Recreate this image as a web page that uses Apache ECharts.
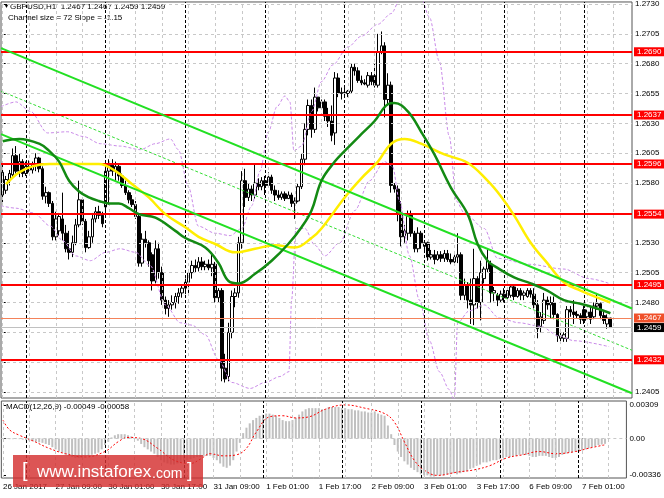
<!DOCTYPE html>
<html><head><meta charset="utf-8">
<script src="https://cdn.jsdelivr.net/npm/echarts@6/dist/echarts.min.js"></script>
<style>html,body{margin:0;padding:0;background:#fff}#c{width:664px;height:498px}</style>
</head><body><div id="c"></div>
<script>
// ---- candles (GBPUSD H1, 26 Jan 17:00 .. 7 Feb 08:00) ----
const opens=[1.2570,1.2574,1.2582,1.2587,1.2603,1.2590,1.2598,1.2588,1.2594,1.2591,
1.2596,1.2601,1.2592,1.2569,1.2572,1.2563,1.2535,1.2540,1.2550,1.2538,
1.2525,1.2522,1.2530,1.2545,1.2566,1.2548,1.2526,1.2535,1.2550,1.2556,
1.2553,1.2560,1.2590,1.2595,1.2590,1.2594,1.2586,1.2578,1.2572,1.2566,
1.2562,1.2552,1.2513,1.2533,1.2530,1.2520,1.2498,1.2525,1.2505,1.2482,
1.2475,1.2478,1.2480,1.2485,1.2488,1.2492,1.2497,1.2505,1.2511,1.2509,
1.2514,1.2510,1.2512,1.2509,1.2512,1.2484,1.2490,1.2425,1.2418,1.2455,
1.2485,1.2488,1.2530,1.2582,1.2568,1.2575,1.2570,1.2580,1.2577,1.2582,
1.2578,1.2585,1.2574,1.2570,1.2568,1.2571,1.2567,1.2570,1.2563,1.2565,
1.2577,1.2600,1.2625,1.2645,1.2625,1.2652,1.2643,1.2648,1.2636,1.2632,
1.2622,1.2668,1.2655,1.2656,1.2655,1.2657,1.2677,1.2674,1.2666,1.2664,
1.2662,1.2670,1.2670,1.2662,1.2690,1.2695,1.2650,1.2662,1.2578,1.2575,
1.2555,1.2535,1.2538,1.2553,1.2538,1.2525,1.2538,1.2527,1.2530,1.2518,
1.2520,1.2516,1.2520,1.2517,1.2521,1.2516,1.2514,1.2518,1.2520,1.2486,
1.2495,1.2482,1.2478,1.2500,1.2480,1.2500,1.2508,1.2512,1.2488,1.2486,
1.2482,1.2487,1.2484,1.2486,1.2493,1.2485,1.2490,1.2486,1.2485,1.2490,
1.2487,1.2478,1.2460,1.2465,1.2482,1.2478,1.2480,1.2470,1.2452,1.2450,
1.2450,1.2474,1.2472,1.2470,1.2469,1.2474,1.2468,1.2472,1.2468,1.2477,
1.2479,1.2469,1.2462,1.2467];
const highs=[1.2596,1.2586,1.2591,1.2609,1.2611,1.2605,1.2600,1.2598,1.2599,1.2598,
1.2605,1.2602,1.2594,1.2577,1.2573,1.2565,1.2556,1.2555,1.2572,1.2545,
1.2540,1.2536,1.2550,1.2582,1.2568,1.2550,1.2540,1.2555,1.2560,1.2561,
1.2556,1.2598,1.2600,1.2600,1.2598,1.2596,1.2588,1.2582,1.2574,1.2570,
1.2565,1.2555,1.2538,1.2540,1.2532,1.2522,1.2532,1.2530,1.2510,1.2485,
1.2482,1.2486,1.2488,1.2492,1.2495,1.2500,1.2508,1.2515,1.2516,1.2518,
1.2518,1.2515,1.2516,1.2520,1.2514,1.2492,1.2492,1.2437,1.2463,1.2490,
1.2492,1.2535,1.2590,1.2592,1.2580,1.2578,1.2596,1.2584,1.2585,1.2586,
1.2589,1.2587,1.2578,1.2574,1.2573,1.2573,1.2573,1.2572,1.2568,1.2580,
1.2605,1.2630,1.2650,1.2650,1.2660,1.2652,1.2650,1.2650,1.2643,1.2645,
1.2673,1.2672,1.2660,1.2662,1.2658,1.2680,1.2680,1.2677,1.2670,1.2667,
1.2673,1.2673,1.2680,1.2705,1.2707,1.2698,1.2672,1.2665,1.2580,1.2578,
1.2565,1.2545,1.2557,1.2557,1.2540,1.2543,1.2540,1.2532,1.2531,1.2524,
1.2524,1.2523,1.2523,1.2524,1.2524,1.2521,1.2520,1.2538,1.2522,1.2500,
1.2497,1.2500,1.2525,1.2502,1.2515,1.2510,1.2525,1.2515,1.2493,1.2488,
1.2490,1.2492,1.2492,1.2495,1.2495,1.2492,1.2492,1.2490,1.2492,1.2492,
1.2492,1.2482,1.2472,1.2488,1.2485,1.2485,1.2485,1.2471,1.2455,1.2455,
1.2477,1.2477,1.2482,1.2473,1.2471,1.2477,1.2474,1.2477,1.2480,1.2488,
1.2480,1.2472,1.2470,1.2467];
const lows=[1.2564,1.2571,1.2578,1.2584,1.2588,1.2585,1.2585,1.2586,1.2589,1.2588,
1.2590,1.2589,1.2566,1.2563,1.2560,1.2532,1.2532,1.2536,1.2532,1.2522,
1.2516,1.2518,1.2528,1.2543,1.2545,1.2522,1.2525,1.2530,1.2547,1.2550,
1.2543,1.2553,1.2562,1.2586,1.2582,1.2582,1.2576,1.2570,1.2563,1.2560,
1.2550,1.2510,1.2510,1.2526,1.2510,1.2490,1.2496,1.2500,1.2478,1.2470,
1.2468,1.2474,1.2475,1.2479,1.2484,1.2487,1.2488,1.2500,1.2505,1.2506,
1.2507,1.2507,1.2507,1.2502,1.2480,1.2480,1.2414,1.2413,1.2414,1.2450,
1.2476,1.2484,1.2525,1.2560,1.2565,1.2565,1.2567,1.2574,1.2574,1.2570,
1.2576,1.2571,1.2565,1.2566,1.2566,1.2565,1.2567,1.2560,1.2550,1.2564,
1.2575,1.2595,1.2620,1.2618,1.2622,1.2640,1.2642,1.2632,1.2627,1.2615,
1.2612,1.2652,1.2650,1.2652,1.2652,1.2655,1.2670,1.2664,1.2662,1.2662,
1.2660,1.2662,1.2660,1.2660,1.2688,1.2635,1.2645,1.2572,1.2572,1.2548,
1.2527,1.2530,1.2532,1.2535,1.2522,1.2522,1.2525,1.2524,1.2515,1.2516,
1.2512,1.2515,1.2514,1.2514,1.2514,1.2512,1.2513,1.2513,1.2482,1.2482,
1.2475,1.2462,1.2461,1.2475,1.2465,1.2496,1.2505,1.2480,1.2481,1.2477,
1.2480,1.2480,1.2482,1.2484,1.2482,1.2484,1.2482,1.2482,1.2484,1.2484,
1.2475,1.2450,1.2455,1.2462,1.2474,1.2467,1.2466,1.2447,1.2447,1.2447,
1.2447,1.2468,1.2462,1.2467,1.2462,1.2462,1.2466,1.2462,1.2466,1.2474,
1.2466,1.2462,1.2458,1.2459];
const closes=[1.2589,1.2583,1.2588,1.2603,1.2590,1.2598,1.2588,1.2594,1.2591,1.2596,
1.2601,1.2592,1.2569,1.2572,1.2563,1.2535,1.2550,1.2552,1.2538,1.2525,
1.2522,1.2530,1.2545,1.2566,1.2548,1.2526,1.2535,1.2550,1.2556,1.2553,
1.2546,1.2590,1.2595,1.2590,1.2594,1.2586,1.2578,1.2572,1.2566,1.2562,
1.2552,1.2513,1.2533,1.2530,1.2515,1.2498,1.2525,1.2505,1.2482,1.2475,
1.2478,1.2480,1.2485,1.2488,1.2492,1.2497,1.2505,1.2511,1.2509,1.2514,
1.2510,1.2512,1.2509,1.2512,1.2484,1.2490,1.2425,1.2416,1.2455,1.2485,
1.2488,1.2530,1.2582,1.2568,1.2575,1.2570,1.2580,1.2577,1.2582,1.2578,
1.2585,1.2574,1.2570,1.2568,1.2571,1.2567,1.2570,1.2563,1.2565,1.2577,
1.2600,1.2625,1.2645,1.2625,1.2652,1.2643,1.2648,1.2636,1.2632,1.2620,
1.2668,1.2655,1.2656,1.2655,1.2657,1.2677,1.2674,1.2666,1.2664,1.2663,
1.2670,1.2665,1.2662,1.2690,1.2695,1.2650,1.2662,1.2578,1.2575,1.2555,
1.2535,1.2540,1.2553,1.2538,1.2525,1.2538,1.2530,1.2530,1.2518,1.2520,
1.2516,1.2520,1.2517,1.2521,1.2516,1.2514,1.2518,1.2520,1.2486,1.2495,
1.2482,1.2478,1.2500,1.2480,1.2505,1.2508,1.2515,1.2488,1.2490,1.2482,
1.2487,1.2484,1.2490,1.2493,1.2485,1.2490,1.2486,1.2488,1.2490,1.2487,
1.2478,1.2458,1.2468,1.2482,1.2478,1.2480,1.2470,1.2452,1.2450,1.2453,
1.2474,1.2472,1.2470,1.2469,1.2466,1.2465,1.2472,1.2466,1.2477,1.2479,
1.2469,1.2465,1.2467,1.2459];

// ---- indicators as [bar, value] ----
const maGreen=[[0,1.2615],[5,1.2617],[11,1.2613],[14,1.2607],[17,1.2598],[20,1.2582],[23,1.2573],[26,1.2568],[29,1.2565],[32,1.2563],[35,1.2563],[38,1.2559],[41,1.2554],[46,1.2551],[52,1.2540],[55,1.2534],[61,1.2526],[65,1.2513],[68,1.2498],[71,1.2496],[76,1.2504],[81,1.2515],[86,1.2529],[90,1.2543],[93,1.2557],[96,1.2582],[100,1.2598],[103,1.2607],[108,1.2621],[112,1.2632],[116,1.2646],[118,1.2647],[122,1.2640],[126,1.2623],[130,1.2604],[135,1.2576],[140,1.2554],[143,1.2529],[146,1.2515],[149,1.2509],[154,1.2501],[159,1.2496],[164,1.2490],[169,1.2482],[174,1.2479],[179,1.2475],[183,1.2471]];
const maYellow=[[1,1.2579],[2,1.2582],[5,1.2589],[9,1.2594],[14,1.2596],[20,1.2596],[29,1.2596],[34,1.2590],[39,1.2579],[44,1.2568],[49,1.2554],[55,1.2543],[59,1.2535],[64,1.2529],[70,1.2522],[76,1.2525],[82,1.2528],[88,1.2526],[93,1.2534],[96,1.2542],[103,1.2568],[108,1.2584],[113,1.2598],[117,1.2613],[121,1.2617],[126,1.2613],[133,1.2604],[140,1.2597],[146,1.2582],[150,1.2569],[154,1.2553],[159,1.2530],[164,1.2513],[169,1.2497],[174,1.2490],[183,1.2480]];
const bbUpper=[[-0.5,1.2644],[4,1.2648],[8.4,1.2640],[13.5,1.2622],[19.5,1.2623],[24.3,1.2619],[29.4,1.2613],[35.4,1.2611],[41.4,1.2608],[46,1.2613],[50.5,1.2617],[52.9,1.2608],[55.9,1.2577],[58.9,1.2544],[64,1.2538],[68.5,1.2536],[72,1.2542],[75,1.2561],[77.5,1.2590],[80,1.2623],[82.6,1.2644],[85,1.2653],[86.5,1.2648],[87.7,1.2607],[90,1.2611],[93,1.2640],[96,1.2665],[99.4,1.2679],[104,1.2694],[108,1.2703],[113,1.2713],[117,1.2722],[120,1.2736],[125.5,1.2740],[128.5,1.2719],[131.5,1.2682],[134.5,1.2619],[136.6,1.2565],[139,1.2555],[145,1.2542],[149,1.2517],[158.5,1.2512],[169,1.2508],[176.5,1.2500],[182.6,1.2496]];
const bbLower=[[-0.5,1.2561],[4,1.2559],[9.3,1.2555],[14.4,1.2544],[18,1.2532],[22,1.2519],[26.4,1.2515],[31,1.2522],[35.4,1.2525],[40,1.2522],[44.4,1.2511],[49,1.2478],[53.5,1.2463],[57,1.2461],[61,1.2453],[65,1.2432],[69,1.2413],[74.5,1.2408],[79,1.2413],[83.5,1.2418],[86.2,1.2422],[87,1.2482],[88.3,1.2542],[91,1.2542],[94,1.2528],[97,1.2519],[101.5,1.2530],[106,1.2557],[110.5,1.2582],[115,1.2598],[117.4,1.2594],[119.5,1.2565],[122.5,1.2519],[125.5,1.2482],[128.5,1.2448],[131.5,1.2422],[134.5,1.2407],[136,1.2398],[137,1.2463],[140.5,1.2473],[145,1.2478],[149.5,1.2467],[155.5,1.2463],[162,1.2460],[167.5,1.2452],[172,1.2448],[182.6,1.2443]];
const channelUpper=[[-0.5,1.2693],[189.5,1.2475]];
const channelLower=[[-0.5,1.2621],[189.5,1.2404]];
const channelMid=[[-0.5,1.2657],[189.5,1.2440]];

// ---- MACD(12,26,9) ----
const macdHist=[-0.00005,-0.00005,-0.00006,-0.00006,-0.00005,-0.00006,
-0.0001,-0.00015,-0.0002,-0.00025,-0.0003,-0.00035,-0.0004,-0.0005,-0.0006,
-0.0008,-0.0010,-0.0012,-0.0013,-0.0015,-0.0016,-0.0017,-0.0018,-0.0018,
-0.0017,-0.0016,-0.0016,-0.0015,-0.0014,-0.0013,
-0.0010,-0.0006,-0.0003,
0.0001,0.0003,0.0004,0.0004,0.0004,0.0003,0.0002,0.0000,
-0.0002,-0.0005,-0.0008,-0.0010,-0.0012,-0.0014,
-0.0017,-0.0020,-0.0022,-0.0023,-0.0024,-0.0024,-0.0023,-0.0022,-0.0021,
-0.0020,-0.0019,-0.0018,-0.0017,-0.0017,-0.0016,-0.0016,-0.0016,-0.0018,
-0.0020,-0.0023,-0.0026,-0.0027,-0.0025,
-0.0020,-0.0012,-0.0004,
0.0005,0.0010,0.0014,0.0017,0.0019,0.0021,0.0022,
0.0023,0.0023,0.0022,0.0021,0.0019,0.0017,0.0016,0.0016,0.0017,0.0019,
0.0022,0.0025,0.0027,0.0028,0.0028,0.0028,0.0028,0.0027,0.0027,
0.0029,0.0029,0.0029,0.0029,0.0028,0.0028,0.0027,0.0027,0.0026,0.0026,
0.0025,0.0025,0.0024,0.0024,0.0025,0.0023,0.0022,
0.0021,0.0012,0.0004,
-0.0006,-0.0012,-0.0017,-0.0021,-0.0024,-0.0027,-0.0029,-0.0031,-0.0033,
-0.0034,-0.0034,-0.0035,-0.0035,-0.0034,-0.0034,-0.0034,-0.0033,-0.0033,-0.0032,
-0.0033,-0.0032,-0.0031,-0.0030,-0.0028,-0.0027,-0.0025,-0.0024,-0.0022,-0.0022,
-0.0021,-0.0020,-0.0020,-0.0019,-0.0018,-0.0017,-0.0017,-0.0016,-0.0016,-0.0015,
-0.0015,-0.0015,-0.0016,-0.0017,-0.0017,-0.0016,-0.0016,-0.0016,-0.0017,-0.0018,
-0.0018,-0.0017,-0.0015,-0.0014,-0.0013,-0.0013,-0.0012,-0.0012,-0.0011,-0.0010,
-0.0009,-0.0008,-0.0007,-0.0006,-0.00055,-0.00049];
const macdSignal=[[0,0.0017],[2,0.0008],[5,0.0003],[9,-0.0002],[14,-0.0009],[19,-0.0014],[25,-0.0017],[31,-0.0012],[35,-0.0003],[38,0.0001],[42,0.0000],[47,-0.0009],[52,-0.0020],[57,-0.0023],[60,-0.0019],[63,-0.0014],[67,-0.0016],[71,-0.0015],[74,-0.0009],[77,0.0006],[81,0.0020],[85,0.0021],[89,0.0019],[93,0.0020],[98,0.0027],[104,0.0031],[110,0.0028],[116,0.0023],[119,0.0015],[122,-0.0003],[125,-0.0020],[128,-0.0029],[132,-0.0034],[138,-0.0031],[143,-0.0029],[148,-0.0025],[153,-0.0018],[158,-0.0015],[163,-0.0012],[168,-0.0014],[174,-0.0012],[178,-0.0009],[183,-0.00058]];

// ---- levels and axis texts ----
const levels=[1.2690,1.2637,1.2596,1.2554,1.2495,1.2432];
const askPrice=1.2467, bidPrice=1.2459;
const priceTicks=[1.2405,1.2430,1.2455,1.2480,1.2505,1.2530,1.2555,1.2580,1.2605,1.2630,1.2655,1.2680,1.2705,1.2730];
const priceLabels=[1.2405,1.2480,1.2505,1.2530,1.2580,1.2605,1.2630,1.2655,1.2680,1.2705,1.2730];
const macdLabels=[0.00309,0,-0.00336];
const timeLabels=['26 Jan 2017','27 Jan 09:00','30 Jan 01:00','30 Jan 17:00','31 Jan 09:00','1 Feb 01:00','1 Feb 17:00','2 Feb 09:00','3 Feb 01:00','3 Feb 17:00','6 Feb 09:00','7 Feb 01:00'];
const daySeparators=[7,31,55,79,103,127,151,175];
const slots=190, labelStep=16, gridStep=8;

const cats=Array.from({length:slots},(_,i)=>String(i));
const candleData=opens.map((o,i)=>[o,closes[i],lows[i],highs[i]]);
const vGrid=[]; for(let i=0;i<slots;i+=gridStep) vGrid.push(i);
const FONT='Liberation Sans';
const gridLine={color:'#c8c8c8',type:[3,3],width:1};
const sepLine={color:'#000',type:[3,2],width:1};
const bandStyle={color:'#c98ae8',width:1,type:[3,2]};

const chart=echarts.init(document.getElementById('c'));
chart.setOption({
  animation:false,
  textStyle:{fontFamily:FONT,fontSize:8,color:'#000'},
  grid:[{left:1,top:0,width:631,height:398,show:true,borderColor:'#555',borderWidth:1},
        {left:1,top:401,width:631,height:77,show:true,borderColor:'#555',borderWidth:1}],
  xAxis:[
    {type:'category',gridIndex:0,data:cats,boundaryGap:true,axisLine:{show:false},axisTick:{show:false},axisLabel:{show:false},splitLine:{show:false}},
    {type:'value',gridIndex:0,min:-0.5,max:slots-0.5,show:false},
    {type:'category',gridIndex:1,data:cats,boundaryGap:true,
     axisLine:{show:false},
     axisTick:{show:true,alignWithLabel:true,interval:(i)=>i%labelStep===0,length:3,lineStyle:{color:'#000'}},
     axisLabel:{interval:(i)=>i%labelStep===0,formatter:(v,i)=>timeLabels[i/labelStep]||'',align:'left',margin:5,fontSize:8,fontFamily:FONT,color:'#000'},
     splitLine:{show:false}},
    {type:'value',gridIndex:1,min:-0.5,max:slots-0.5,show:false}
  ],
  yAxis:[
    {type:'value',gridIndex:0,position:'right',min:1.2400,max:1.27317,
     axisLine:{show:false},
     axisTick:{show:true,customValues:priceTicks,length:3,lineStyle:{color:'#000'}},
     axisLabel:{customValues:priceLabels,formatter:(v)=>v.toFixed(4),margin:3,fontSize:8,fontFamily:FONT,color:'#000'},
     splitLine:{show:false}},
    {type:'value',gridIndex:1,position:'right',min:-0.00364,max:0.00346,
     axisLine:{show:false},
     axisTick:{show:true,customValues:macdLabels,length:3,lineStyle:{color:'#000'}},
     axisLabel:{customValues:macdLabels,formatter:(v)=>v===0?'0.00':v.toFixed(5),margin:3,fontSize:8,fontFamily:FONT,color:'#000'},
     splitLine:{show:false}}
  ],
  graphic:[
    {type:'text',x:3,y:3,style:{text:'▼',font:'7px '+FONT,fill:'#000'}},
    {type:'text',x:10,y:3,style:{text:'GBPUSD,H1  1.2467 1.2467 1.2459 1.2459',font:'8px '+FONT,fill:'#000'}},
    {type:'text',x:8,y:14,style:{text:'Channel size = 72 Slope = -1.15',font:'8px '+FONT,fill:'#000'}},
    {type:'text',x:6,y:403,style:{text:'MACD(12,26,9) -0.00049 -0.00058',font:'8px '+FONT,fill:'#000'}},
    {type:'rect',shape:{x:13,y:455,width:190,height:32},style:{fill:'rgba(212,48,48,0.82)'},z:100},
    {type:'text',x:22,y:471,style:{text:'[',font:'20px '+FONT,fill:'#fff',verticalAlign:'middle'},z:101},
    {type:'text',x:37,y:472,style:{text:'www.instaforex',font:'17px '+FONT,fill:'#fff',verticalAlign:'middle'},z:101},
    {type:'text',x:152,y:474,style:{text:'.com',font:'14px '+FONT,fill:'#fff',verticalAlign:'middle'},z:101},
    {type:'text',x:187,y:471,style:{text:']',font:'20px '+FONT,fill:'#fff',verticalAlign:'middle'},z:101}
  ],
  series:[
    {type:'line',xAxisIndex:1,yAxisIndex:0,data:[],silent:true,z:1,
     markLine:{silent:true,precision:6,symbol:['none','none'],label:{show:false},animation:false,
       data:[...vGrid.map(i=>({xAxis:i,lineStyle:gridLine})),
             ...priceTicks.map(v=>({yAxis:v,lineStyle:gridLine})),
             ...daySeparators.map(i=>({xAxis:i,lineStyle:sepLine}))]}},
    {type:'line',xAxisIndex:1,yAxisIndex:0,data:[],silent:true,z:2,
     markLine:{silent:true,precision:6,symbol:['none','none'],animation:false,
       label:{position:'end',distance:2,formatter:(p)=>Number(p.value).toFixed(4),color:'#fff',backgroundColor:'#ff0000',padding:[1,3,0,3],fontSize:8,fontFamily:FONT},
       data:[...levels.map(v=>({yAxis:v,lineStyle:{color:'#ff0000',width:2,type:'solid'}})),
             {yAxis:askPrice,lineStyle:{color:'#f4825a',width:1,type:'solid'},label:{backgroundColor:'#f0502a',color:'#fff'}},
             {yAxis:bidPrice,lineStyle:{color:'#c0c0c0',width:1,type:'solid'},label:{backgroundColor:'#000',color:'#fff'}}]}},
    {type:'candlestick',xAxisIndex:0,yAxisIndex:0,data:candleData,barWidth:3,z:3,
     itemStyle:{color:'#ffffff',color0:'#000000',borderColor:'#000000',borderColor0:'#000000',borderWidth:1}},
    {type:'line',xAxisIndex:1,yAxisIndex:0,data:bbUpper,smooth:0.3,smoothMonotone:'x',symbol:'none',z:4,lineStyle:bandStyle},
    {type:'line',xAxisIndex:1,yAxisIndex:0,data:bbLower,smooth:0.3,smoothMonotone:'x',symbol:'none',z:4,lineStyle:bandStyle},
    {type:'line',xAxisIndex:1,yAxisIndex:0,data:channelMid,symbol:'none',z:4,lineStyle:{color:'#33dd33',width:1,type:[3,2]}},
    {type:'line',xAxisIndex:1,yAxisIndex:0,data:maYellow,smooth:0.4,symbol:'none',z:5,lineStyle:{color:'#ffee00',width:2.5}},
    {type:'line',xAxisIndex:1,yAxisIndex:0,data:channelUpper,symbol:'none',z:5,lineStyle:{color:'#22e022',width:2}},
    {type:'line',xAxisIndex:1,yAxisIndex:0,data:channelLower,symbol:'none',z:5,lineStyle:{color:'#22e022',width:2}},
    {type:'line',xAxisIndex:1,yAxisIndex:0,data:maGreen,smooth:0.4,symbol:'none',z:6,lineStyle:{color:'#138a13',width:2.5}},
    {type:'line',xAxisIndex:3,yAxisIndex:1,data:[],silent:true,z:1,
     markLine:{silent:true,precision:8,symbol:['none','none'],label:{show:false},animation:false,
       data:[...vGrid.map(i=>({xAxis:i,lineStyle:gridLine})),
             {yAxis:0,lineStyle:gridLine},
             ...daySeparators.map(i=>({xAxis:i,lineStyle:sepLine}))]}},
    {type:'bar',xAxisIndex:2,yAxisIndex:1,data:macdHist,barWidth:2,z:3,itemStyle:{color:'#c0c0c0'}},
    {type:'line',xAxisIndex:3,yAxisIndex:1,data:macdSignal,smooth:0.4,symbol:'none',z:4,lineStyle:{color:'#ff0000',width:1,type:[2,2]}}
  ]
});
</script></body></html>
